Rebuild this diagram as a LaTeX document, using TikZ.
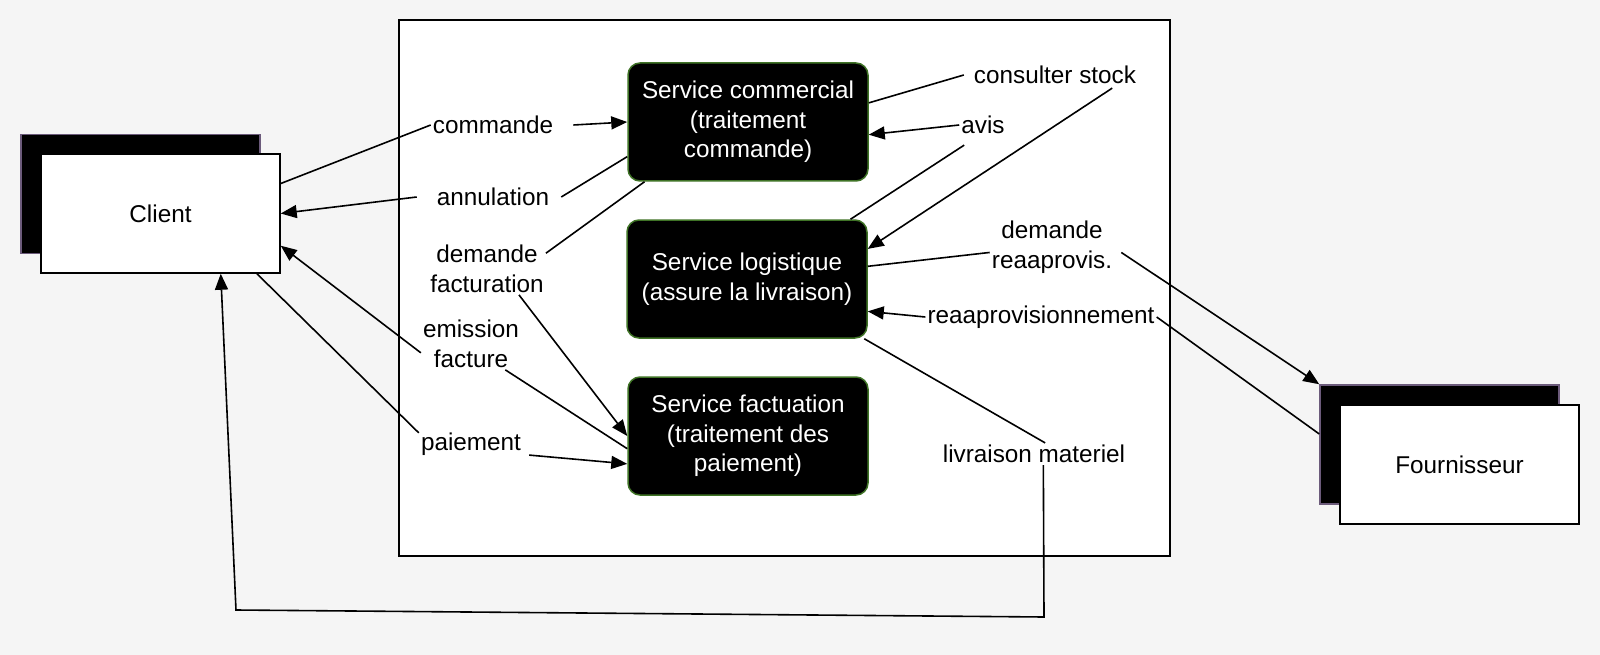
\documentclass[tikz,border=0pt]{standalone}
\usepackage{fontspec}
\setmainfont{Liberation Sans}
\usetikzlibrary{arrows.meta}
\definecolor{fond}{HTML}{F5F5F5}
\definecolor{bordvert}{HTML}{3F7326}
\definecolor{bordviolet}{HTML}{6C5B7B}
\begin{document}
\begin{tikzpicture}[x=1pt,y=-1pt,
  every node/.style={font=\fontsize{24.3}{29.5}\selectfont},
  ombre/.style={draw=bordviolet,line width=1.5pt,fill=black,minimum width=239pt,minimum height=119pt},
  acteur/.style={draw=black,line width=1.5pt,fill=white,minimum width=239pt,minimum height=119pt},
  service/.style={draw=bordvert,line width=1.5pt,fill=black,text=white,rounded corners=12pt,
    minimum width=240pt,minimum height=118pt,align=center},
  etiquette/.style={align=center,inner sep=2pt},
  trait/.style={line width=1.6pt},
  fleche/.style={line width=1.6pt,-{Triangle[length=16pt,width=13pt]}}]
        \fill[fond] (0,0) rectangle (1600,655);
        \draw[fill=white,line width=1.5pt] (399,20) rectangle (1170,556);
        \node[ombre] (clientombre) at (140.5,194) {};
        \node[acteur] (client) at (160.5,213.5) {Client};
        \node[ombre] (fournombre) at (1439.5,444.5) {};
        \node[acteur] (fourn) at (1459.5,464.5) {Fournisseur};
        \node[service] (commercial) at (748,122) {Service commercial\\(traitement\\commande)};
        \node[service] (logistique) at (747,279) {Service logistique\\(assure la livraison)};
        \node[service] (facturation) at (748,436) {Service factuation\\(traitement des\\paiement)};
        \node[etiquette] (commande) at (493,125) {commande};
        \node[etiquette] (annulation) at (493,197) {annulation};
        \node[etiquette] (demfact) at (487,269) {demande\\facturation};
        \node[etiquette] (emission) at (471,344) {emission\\facture};
        \node[etiquette] (paiement) at (471,444) {paiement};
        \node[etiquette] (consulter) at (1055,75) {consulter stock};
        \node[etiquette] (avis) at (983,125) {avis};
        \node[etiquette] (demreappro) at (1052,247) {demande\\reaaprovis.};
        \node[etiquette] (reappro) at (1041,317) {reaaprovisionnement};
        \node[etiquette] (livraison) at (1034,454) {livraison materiel};
        \coordinate (coinbasdroit) at (1044,617);
        \coordinate (coinbasgauche) at (236,610);
        \draw[trait] (client.14) -- (commande.west);
        \draw[fleche] ([xshift=18pt]commande.east) -- (commercial.west);
        \draw[trait] (commercial.196) -- ([xshift=10pt]annulation.east);
        \draw[fleche] ([xshift=-18pt]annulation.west) -- (client.east);
        \draw[trait] (commercial.210) -- (demfact.15);
        \draw[fleche] (demfact.321) -- (facturation.west);
        \draw[trait] (facturation.186) -- (emission.323);
        \draw[fleche] (emission.190) -- (client.345);
        \draw[trait] (client.328) -- (paiement.168);
        \draw[fleche] ([xshift=6pt]paiement.348) -- (facturation.193);
        \draw[trait] (commercial.9) -- ([xshift=-8pt]consulter.west);
        \draw[fleche] ([xshift=-26pt,yshift=-2pt]consulter.south east) -- (logistique.14);
        \draw[trait] (logistique.30) -- ([xshift=5pt,yshift=-9pt]avis.south west);
        \draw[fleche] (avis.west) -- (commercial.354);
        \draw[trait] (logistique.6) -- (demreappro.185);
        \draw[fleche] ([xshift=7pt]demreappro.355) -- (fournombre.north west);
        \draw[trait] (fournombre.175) -- (reappro.east);
        \draw[fleche] (reappro.west) -- (logistique.345);
        \draw[trait] (logistique.333) -- (livraison.45);
        \draw[fleche] (livraison.310) -- (coinbasdroit) -- (coinbasgauche) -- (client.315);
\end{tikzpicture}
\end{document}
